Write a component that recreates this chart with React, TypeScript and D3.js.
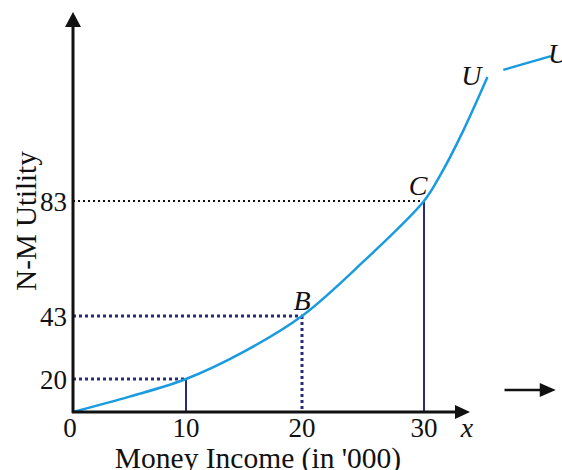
import React from "react";
import * as d3 from "d3";

const incomeTicks = [0, 10, 20, 30];
const utilityTicks = [20, 43, 83];
const curveIncome = [0, 5, 10, 15, 20, 25, 30, 31.3, 33.2, 35.2];
const curveUtility = [0, 9.3, 20, 30, 43, 61.8, 83, 91.7, 107.3, 126.1];
const guidePoints = [
  { income: 10, utility: 20, label: "", vStyle: "solid", hColor: "#2a2a7c" },
  { income: 20, utility: 43, label: "B", vStyle: "dot", hColor: "#2a2a7c" },
  { income: 30, utility: 83, label: "C", vStyle: "solid", hColor: "#111" },
];
const extraSegIncome = [36.5, 40.4];
const extraSegUtility = [128.6, 133.4];
const arrowIncome = [36.6, 40.8];
const arrowUtility = 13.3;

const W = 562;
const H = 470;

export default function App() {
  const x = d3.scaleLinear().domain([0, 10, 20, 30]).range([73, 186, 302, 424]);
  const y = d3.scaleLinear().domain([0, 20, 43, 83]).range([412, 379, 316, 201]);
  const pts: [number, number][] = curveIncome.map((v, i) => [x(v), y(curveUtility[i])]);
  const line = d3.line().curve(d3.curveCatmullRom.alpha(0.5));
  const x0 = x(0);
  const y0 = y(0);
  const font = "'Liberation Serif', 'Times New Roman', serif";
  const blue = "#1a9be0";
  const navy = "#2a2a7c";
  const last = pts[pts.length - 1];
  return (
    <svg width={W} height={H} style={{ position: "absolute", left: 0, top: 0, background: "#fff" }}>
      {guidePoints.map((g, i) => (
        <g key={i}>
          <line
            x1={x0}
            x2={x(g.income)}
            y1={y(g.utility)}
            y2={y(g.utility)}
            stroke={g.hColor}
            strokeWidth={g.hColor === "#111" ? 2 : 3}
            strokeDasharray={g.hColor === "#111" ? "2,3" : "3,3"}
          />
          <line
            x1={x(g.income)}
            x2={x(g.income)}
            y1={y(g.utility)}
            y2={y0}
            stroke={navy}
            strokeWidth={g.vStyle === "dot" ? 3 : 2}
            strokeDasharray={g.vStyle === "dot" ? "3,3" : undefined}
          />
          {g.label && (
            <text
              x={x(g.income) - (g.label === "C" ? 6 : 0)}
              y={y(g.utility) - 6}
              fontFamily={font}
              fontStyle="italic"
              fontSize={28}
              textAnchor="middle"
              fill="#111"
            >
              {g.label}
            </text>
          )}
        </g>
      ))}
      <path d={line(pts) || ""} fill="none" stroke={blue} strokeWidth={2.5} />
      <text x={last[0] - 16} y={last[1] + 8} fontFamily={font} fontStyle="italic" fontSize={28} textAnchor="middle" fill="#111">U</text>
      <line
        x1={x(extraSegIncome[0])}
        y1={y(extraSegUtility[0])}
        x2={x(extraSegIncome[1])}
        y2={y(extraSegUtility[1])}
        stroke={blue}
        strokeWidth={2.5}
      />
      <text x={x(extraSegIncome[1]) - 3} y={y(extraSegUtility[1]) + 7} fontFamily={font} fontStyle="italic" fontSize={28} fill="#111">U</text>
      <line x1={x0} x2={x0} y1={y0 + 1} y2={26} stroke="#111" strokeWidth={3} />
      <path d={`M${x0},12 L${x0 - 8},27 L${x0 + 8},27 Z`} fill="#111" />
      <line x1={x0 - 1} x2={456} y1={y0} y2={y0} stroke="#111" strokeWidth={3} />
      <path d={`M470,${y0} L455,${y0 - 7} L455,${y0 + 7} Z`} fill="#111" />
      <text x={467} y={437} fontFamily={font} fontStyle="italic" fontSize={28} textAnchor="middle" fill="#111">x</text>
      {incomeTicks.map((t) => (
        <text key={t} x={t === 0 ? x(t) - 3 : x(t)} y={437} fontFamily={font} fontSize={27} textAnchor="middle" fill="#111">
          {t}
        </text>
      ))}
      {utilityTicks.map((t) => (
        <text key={t} x={67} y={y(t) + 10} fontFamily={font} fontSize={27} textAnchor="end" fill="#111">
          {t}
        </text>
      ))}
      <text x={258} y={468} fontFamily={font} fontSize={29.5} textAnchor="middle" fill="#111">Money Income (in '000)</text>
      <text transform={`translate(36,221) rotate(-90)`} fontFamily={font} fontSize={29} textAnchor="middle" fill="#111">N-M Utility</text>
      <line x1={x(arrowIncome[0])} x2={x(arrowIncome[1]) - 14} y1={y(arrowUtility)} y2={y(arrowUtility)} stroke="#111" strokeWidth={2.5} />
      <path d={`M${x(arrowIncome[1])},${y(arrowUtility)} L${x(arrowIncome[1]) - 16},${y(arrowUtility) - 7} L${x(arrowIncome[1]) - 16},${y(arrowUtility) + 7} Z`} fill="#111" />
    </svg>
  );
}
